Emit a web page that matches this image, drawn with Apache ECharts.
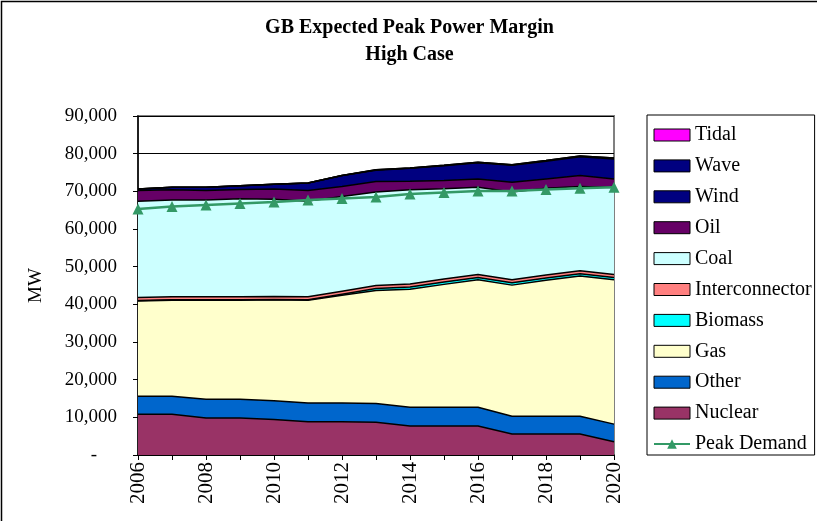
<!DOCTYPE html>
<html>
<head>
<meta charset="utf-8" />
<title>GB Expected Peak Power Margin</title>
<script src="https://cdn.jsdelivr.net/npm/echarts@6/dist/echarts.min.js"></script>
<style>
    html, body { margin: 0; padding: 0; background: #fff; }
    #chart { width: 819px; height: 521px; }
</style>
</head>
<body>
<div id="chart"></div>
<script type="text/javascript">
// values, MW
var years = ['2006', '2007', '2008', '2009', '2010', '2011', '2012', '2013', '2014', '2015', '2016', '2017', '2018', '2019', '2020'];
var nuclear = [10800, 10800, 9800, 9800, 9400, 8800, 8800, 8700, 7700, 7700, 7700, 5600, 5600, 5600, 3500];
var other = [4800, 4800, 5000, 5000, 5000, 5000, 5000, 5000, 5000, 5000, 5000, 4700, 4700, 4700, 4700];
var gas = [25300, 25500, 26300, 26300, 26800, 27300, 28600, 30000, 31300, 32600, 33800, 34800, 36100, 37200, 38300];
var biomass = [100, 100, 100, 100, 100, 100, 300, 500, 600, 600, 600, 600, 600, 600, 600];
var interconnector = [800, 800, 800, 800, 800, 800, 800, 800, 800, 800, 800, 800, 800, 800, 800];
var coal = [25600, 25700, 25700, 26000, 25800, 25400, 25100, 24800, 25000, 24000, 23200, 23300, 23000, 22400, 23100];
var oil = [2800, 2700, 2500, 2500, 2700, 2800, 2700, 2800, 2300, 2200, 2200, 2600, 2500, 2900, 2300];
var wind = [400, 700, 900, 1000, 1300, 2000, 2900, 3000, 3400, 3900, 4300, 4500, 4700, 5000, 5300];
var wave = [0, 0, 0, 0, 0, 0, 0, 100, 100, 100, 150, 150, 200, 200, 250];
var tidal = [0, 0, 0, 0, 0, 0, 0, 0, 0, 0, 0, 0, 0, 0, 0];
var peakDemand = [65300, 66000, 66400, 66800, 67200, 67700, 68100, 68500, 69300, 69700, 70100, 70100, 70500, 70800, 71100];

var stackNames = ['Nuclear', 'Other', 'Gas', 'Biomass', 'Interconnector', 'Coal', 'Oil', 'Wind', 'Wave', 'Tidal'];
var stackData = [nuclear, other, gas, biomass, interconnector, coal, oil, wind, wave, tidal];
var stackColors = ['#993366', '#0066cc', '#ffffcc', '#00ffff', '#ff8080', '#ccffff', '#660066', '#000080', '#000080', '#ff00ff'];

var font = 'Liberation Serif';

var series = [];
for (var i = 0; i < stackNames.length; i++) {
    series.push({
        name: stackNames[i],
        type: 'line',
        stack: 'total',
        data: stackData[i],
        symbol: 'none',
        color: stackColors[i],
        lineStyle: { color: '#000', width: 1.5 },
        areaStyle: { color: stackColors[i], opacity: 1 },
        emphasis: { disabled: true }
    });
}
series.push({
    name: 'Peak Demand',
    type: 'line',
    data: peakDemand,
    color: '#339966',
    symbol: 'triangle',
    symbolSize: 11,
    lineStyle: { color: '#339966', width: 2.5 },
    itemStyle: { color: '#339966' },
    z: 5
});

// legend order top to bottom as in the picture
var legendData = [];
for (var j = stackNames.length - 1; j >= 0; j--) {
    legendData.push({
        name: stackNames[j],
        icon: 'rect',
        itemStyle: { color: stackColors[j], borderColor: '#000', borderWidth: 1 }
    });
}
legendData.push({ name: 'Peak Demand' });

var chart = echarts.init(document.getElementById('chart'), null, { renderer: 'canvas' });
var option = {
    animation: false,
    backgroundColor: '#fff',
    title: {
        text: 'GB Expected Peak Power Margin\nHigh Case',
        left: 'center',
        top: 14,
        padding: 0,
        textStyle: { fontFamily: font, fontSize: 20, fontWeight: 'bold', color: '#000', lineHeight: 27 }
    },
    legend: {
        data: legendData,
        orient: 'vertical',
        left: 647,
        top: 115,
        padding: [10, 3, 1, 6],
        itemWidth: 36,
        itemHeight: 12,
        itemGap: 10.9,
        backgroundColor: '#fff',
        borderColor: '#000',
        borderWidth: 1,
        selectedMode: false,
        textStyle: { fontFamily: font, fontSize: 20, color: '#000', lineHeight: 20 }
    },
    grid: {
        left: 138,
        right: 205,
        top: 116,
        bottom: 66,
        show: true,
        borderColor: '#808080',
        borderWidth: 2
    },
    xAxis: {
        type: 'category',
        data: years,
        boundaryGap: false,
        axisLine: { lineStyle: { color: '#000', width: 1.5 } },
        axisTick: { show: true, interval: 0, length: 5, lineStyle: { color: '#000' } },
        axisLabel: {
            interval: 1,
            rotate: 90,
            margin: 7,
            fontFamily: font,
            fontSize: 21,
            color: '#000'
        },
        splitLine: { show: false }
    },
    yAxis: {
        type: 'value',
        min: 0,
        max: 90000,
        interval: 10000,
        name: 'MW',
        nameLocation: 'middle',
        nameRotate: 90,
        nameGap: 92,
        nameTextStyle: { fontFamily: font, fontSize: 19, color: '#000' },
        axisLine: { show: true, lineStyle: { color: '#000', width: 1.5 } },
        axisTick: { show: true, length: 5, lineStyle: { color: '#000' } },
        axisLabel: {
            margin: 21,
            fontFamily: font,
            fontSize: 19,
            color: '#000',
            formatter: function (v) {
                if (v === 0) return '{d|-}';
                return v.toLocaleString('en-US');
            },
            rich: { d: { fontFamily: font, fontSize: 19, color: '#000', padding: [0, 20, 0, 0] } }
        },
        splitLine: { show: true, lineStyle: { color: '#000', width: 1 } }
    },
    // outer frame: only the top and left edges show in the picture
    graphic: [{
        type: 'polyline',
        shape: { points: [[1.5, 540], [1.5, 1.5], [817, 1.5]] },
        style: { fill: 'none', stroke: '#000', lineWidth: 1.5 },
        silent: true
    }],
    series: series
};
chart.setOption(option);
</script>
</body>
</html>
